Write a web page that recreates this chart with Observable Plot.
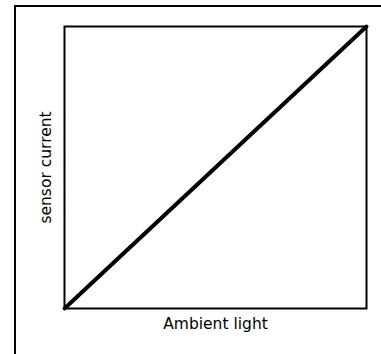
<!DOCTYPE html>
<html>
<head>
<meta charset="utf-8">
<script src="https://cdn.jsdelivr.net/npm/d3@7"></script>
<script src="https://cdn.jsdelivr.net/npm/@observablehq/plot@0.6"></script>
<style>
  html, body { margin: 0; padding: 0; background: #fff; }
  #wrap { position: relative; width: 381px; height: 354px; overflow: hidden; }
  #border { position: absolute; left: 14px; top: 5px; width: 400px; height: 400px;
            border-top: 2px solid #000; border-left: 2px solid #000; box-sizing: border-box; }
  #chart { position: absolute; left: 0; top: 0; }
</style>
</head>
<body>
<div id="wrap"><div id="border"></div><div id="chart"></div></div>
<script>
const ambientLight = [0, 1];
const sensorCurrent = [0, 1];
const xLabel = "Ambient light";
const yLabel = "sensor current";

const data = ambientLight.map((x, i) => ({x, y: sensorCurrent[i]}));

const chart = Plot.plot({
  width: 381,
  height: 354,
  marginLeft: 64,
  marginRight: 15,
  marginTop: 26,
  marginBottom: 46,
  style: {fontFamily: "'DejaVu Sans', sans-serif", fontSize: "15.5px", background: "transparent", color: "#000"},
  x: {domain: [0, 1], axis: null},
  y: {domain: [0, 1], axis: null},
  marks: [
    Plot.frame({stroke: "#000", strokeWidth: 2}),
    Plot.line(data, {x: "x", y: "y", stroke: "#000", strokeWidth: 4}),
    Plot.text([xLabel], {frameAnchor: "bottom", dy: 9, lineAnchor: "top", fill: "#000", fontSize: 15.5}),
    Plot.text([yLabel], {frameAnchor: "left", dx: -14, rotate: -90, textAnchor: "middle", lineAnchor: "bottom", fill: "#000", fontSize: 15.5})
  ]
});
document.getElementById("chart").appendChild(chart);
</script>
</body>
</html>
